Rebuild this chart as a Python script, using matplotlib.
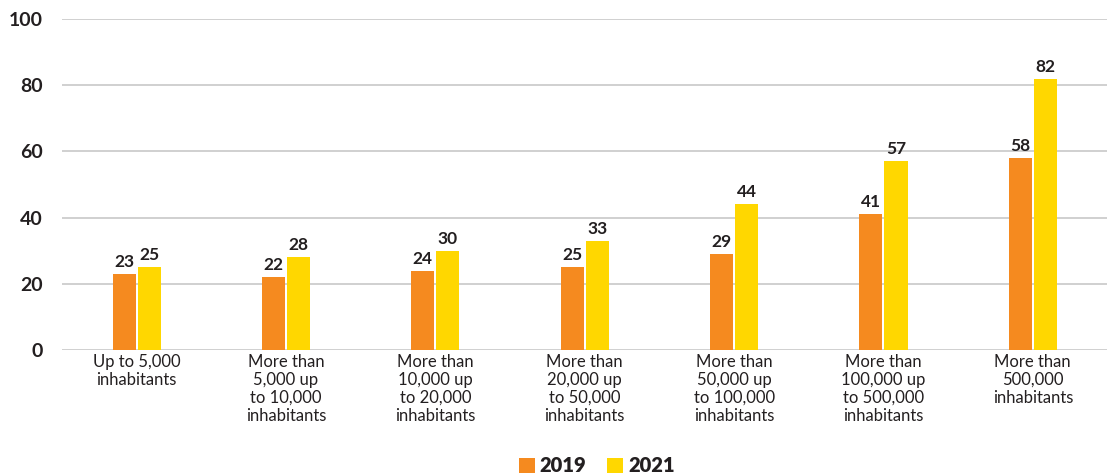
import matplotlib.pyplot as plt
import numpy as np

plt.rcParams['font.family'] = ['Lato', 'DejaVu Sans']

categories = [
    "Up to 5,000\ninhabitants",
    "More than\n5,000 up\nto 10,000\ninhabitants",
    "More than\n10,000 up\nto 20,000\ninhabitants",
    "More than\n20,000 up\nto 50,000\ninhabitants",
    "More than\n50,000 up\nto 100,000\ninhabitants",
    "More than\n100,000 up\nto 500,000\ninhabitants",
    "More than\n500,000\ninhabitants",
]
vals_2019 = [23, 22, 24, 25, 29, 41, 58]
vals_2021 = [25, 28, 30, 33, 44, 57, 82]

c2019 = "#F58A1F"
c2021 = "#FFD700"
txt = "#231F20"

fig = plt.figure(figsize=(11.11, 4.76), dpi=100)
ax = fig.add_axes([0.0558, 0.2647, 0.941, 0.6953])

x = np.arange(len(categories))
w = 0.155
off = 0.084
b1 = ax.bar(x - off, vals_2019, w, color=c2019, label="2019", zorder=3)
b2 = ax.bar(x + off, vals_2021, w, color=c2021, label="2021", zorder=3)

for bars, vals in ((b1, vals_2019), (b2, vals_2021)):
    for r, v in zip(bars, vals):
        ax.text(r.get_x() + r.get_width() / 2, v + 1.2, str(v), ha="center", va="bottom",
                fontsize=12.5, fontweight="bold", color=txt)

ax.set_ylim(0, 100)
ax.set_xlim(-0.5, len(categories) - 0.5)
ax.set_yticks([0, 20, 40, 60, 80, 100])
ax.yaxis.grid(True, color="#C8C8C8", linewidth=1.2, zorder=0)
for s in ax.spines.values():
    s.set_visible(False)
ax.tick_params(axis="both", length=0)
ax.tick_params(axis="y", pad=14)
ax.tick_params(axis="x", pad=3)
for t in ax.get_yticklabels():
    t.set_fontsize(14)
    t.set_fontweight("bold")
    t.set_color(txt)
ax.set_xticks(x)
ax.set_xticklabels(categories, fontsize=12, color=txt, linespacing=1.15)

leg = fig.legend(handles=[b1, b2], loc="lower center", bbox_to_anchor=(0.537, -0.037), ncol=2,
                 frameon=False, handlelength=0.8, handleheight=0.8, handletextpad=0.25,
                 columnspacing=1.0, prop={"family": ["Lato", "DejaVu Sans"], "size": 14.5, "weight": "heavy"})
for t in leg.get_texts():
    t.set_color(txt)

fig.savefig("out.png", dpi=100)
